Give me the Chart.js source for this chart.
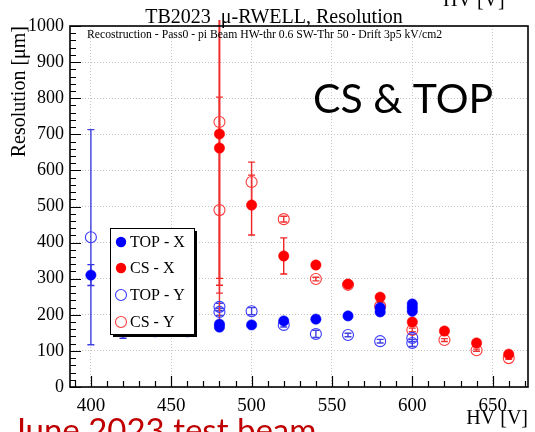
<!DOCTYPE html>
<html>
<head>
<meta charset="utf-8">
<script src="https://cdn.jsdelivr.net/npm/chart.js@4.4.1/dist/chart.umd.min.js"></script>
<style>
  html, body { margin: 0; padding: 0; background: #ffffff; }
  #wrap { position: relative; width: 535px; height: 432px; }
</style>
</head>
<body>
<div id="wrap"><canvas id="c" width="535" height="432"></canvas></div>
<script>
// ---------- data ----------
const chartTitle = 'TB2023  \u03bc-RWELL, Resolution';
const subTitle = 'Recostruction - Pass0 - pi Beam HW-thr 0.6 SW-Thr 50 - Drift 3p5 kV/cm2';
const xAxisTitle = 'HV [V]';
const yAxisTitle = 'Resolution [\u03bcm]';
const bigLabel = 'CS & TOP';
const footLabel = 'June 2023 test beam';
const seriesNames = ['TOP - X', 'CS - X', 'TOP - Y', 'CS - Y'];

const hvTopX  = [400, 420, 440, 460, 480, 480, 500, 520, 540, 560, 580, 580, 600, 600, 600];
const resTopX = [310, 160, 153, 153, 166, 174, 172, 183, 188, 197, 208, 220, 230, 220, 210];
const errTopX = [ 29,  25,   0,   0,   6,   6,   4,   4,   4,   4,   4,   4,   4,   4,   4];

const hvCsX   = [480, 480, 500, 520, 540, 560, 580, 600, 620, 640, 660];
const resCsX  = [701, 662, 504, 363, 338, 285, 249, 180, 155, 122,  91];
const errCsX  = [400, 380,  83,  50,   6,   5,   5,   4,   4,   3,   3];

const hvTopY  = [400, 480, 480, 500, 520, 540, 560, 580, 600, 600];
const resTopY = [415, 222, 208, 210, 172, 147, 144, 127, 136, 122];
const errTopY = [298,  10,  10,  10,   6,  10,   5,   5,  10,  10];

const hvCsY   = [480, 480, 500, 520, 540, 560, 580, 600, 620, 640, 660];
const resCsY  = [734, 490, 568, 465, 299, 283, 224, 158, 130, 102,  80];
const errCsY  = [474, 313,  55,   8,   5,   5,  10,   5,   4,   3,   3];

const xTickValues = [400, 450, 500, 550, 600, 650];
const yTickValues = [0, 100, 200, 300, 400, 500, 600, 700, 800, 900, 1000];
const xMin = 387, xMax = 672, xMinor = 10;
const yMin = 0, yMax = 1000, yMinor = 20;

// ---------- helpers ----------
function pts(xs, ys) { return xs.map((x, i) => ({ x: x, y: ys[i] })); }
const errs = [errTopX, errCsX, errTopY, errCsY];

const BLUE = '#0000ff', RED = '#ff0000', BLUE_O = '#3a3aff', RED_O = '#ff3a3a';
const SERIF = '"Liberation Serif", "DejaVu Serif", serif';
const SANS = 'Lato, "Open Sans", sans-serif';

const errorBarPlugin = {
  id: 'errorBars',
  beforeDatasetsDraw(chart) {
    const { ctx, chartArea: a, scales: { x, y } } = chart;
    ctx.save();
    ctx.beginPath();
    ctx.rect(a.left, a.top - 6, a.right - a.left, a.bottom - a.top + 6);
    ctx.clip();
    chart.data.datasets.forEach((ds, di) => {
      const e = errs[di];
      ctx.strokeStyle = ds.errColor;
      ctx.lineWidth = 1.4;
      ds.data.forEach((p, i) => {
        if (!e[i]) return;
        const px = x.getPixelForValue(p.x);
        const yLo = y.getPixelForValue(p.y - e[i]);
        const yHi = y.getPixelForValue(p.y + e[i]);
        ctx.beginPath();
        ctx.moveTo(px, yLo); ctx.lineTo(px, yHi);
        ctx.moveTo(px - 3.5, yLo); ctx.lineTo(px + 3.5, yLo);
        ctx.moveTo(px - 3.5, yHi); ctx.lineTo(px + 3.5, yHi);
        ctx.stroke();
      });
    });
    ctx.restore();
  }
};

const legendBoxPlugin = {
  id: 'legendBox',
  afterDatasetsDraw(chart) {
    const { ctx } = chart;
    const L = 110, T = 228, W = 84, H = 106;
    ctx.save();
    ctx.fillStyle = '#000';
    ctx.fillRect(L + 3, T + 3, W, H);
    ctx.fillStyle = '#fff';
    ctx.fillRect(L, T, W, H);
    ctx.strokeStyle = '#000';
    ctx.lineWidth = 1;
    ctx.strokeRect(L + 0.5, T + 0.5, W, H);
    ctx.font = '16px ' + SERIF;
    ctx.textBaseline = 'middle';
    ctx.textAlign = 'left';
    const rows = [242, 268, 295, 322];
    chart.data.datasets.forEach((ds, i) => {
      const cy = rows[i];
      ctx.beginPath();
      ctx.arc(121, cy, ds.pointRadius, 0, Math.PI * 2);
      if (ds.legendFilled) { ctx.fillStyle = ds.pointBackgroundColor; ctx.fill(); }
      else { ctx.strokeStyle = ds.pointBorderColor; ctx.lineWidth = ds.pointBorderWidth; ctx.stroke(); }
      ctx.fillStyle = '#000';
      ctx.fillText(ds.label, 130, cy + 1);
    });
    ctx.restore();
  }
};

const framePlugin = {
  id: 'frame',
  afterDraw(chart) {
    const { ctx, chartArea: a, scales: { x, y } } = chart;
    ctx.save();
    ctx.strokeStyle = '#000';
    ctx.lineWidth = 1.2;
    ctx.beginPath();
    for (let v = yMin; v <= yMax + 1e-9; v += yMinor) {
      const py = Math.round(y.getPixelForValue(v)) + 0.5;
      const len = yTickValues.includes(v) ? 11 : 6;
      ctx.moveTo(a.left, py); ctx.lineTo(a.left + len, py);
    }
    for (let v = Math.ceil(xMin / xMinor) * xMinor; v <= xMax; v += xMinor) {
      const px = Math.round(x.getPixelForValue(v)) + 0.5;
      const len = xTickValues.includes(v) ? 11 : 6;
      ctx.moveTo(px, a.bottom); ctx.lineTo(px, a.bottom - len);
    }
    ctx.stroke();
    ctx.lineWidth = 1.6;
    ctx.strokeRect(a.left, a.top, a.right - a.left, a.bottom - a.top);

    // texts
    ctx.fillStyle = '#000';
    ctx.textAlign = 'center';
    ctx.textBaseline = 'alphabetic';
    ctx.font = '20px ' + SERIF;
    ctx.fillText(chartTitle, 274, 23);
    ctx.textAlign = 'left';
    ctx.font = '11.7px ' + SERIF;
    ctx.fillText(subTitle, 87, 38);
    ctx.font = '20px ' + SERIF;
    ctx.fillText(xAxisTitle, 443, 6);
    ctx.font = '41px ' + SANS;
    ctx.fillText(bigLabel, 313, 113);
    ctx.fillStyle = '#c00000';
    ctx.font = '33px ' + SANS;
    ctx.fillText(footLabel, 12, 442);
    ctx.restore();
  }
};

const datasets = [
  { label: seriesNames[0], data: pts(hvTopX, resTopX), pointRadius: 5.2, pointBackgroundColor: BLUE, pointBorderColor: BLUE, pointBorderWidth: 0.5, errColor: '#3030e0', legendFilled: true },
  { label: seriesNames[1], data: pts(hvCsX, resCsX), pointRadius: 5.2, pointBackgroundColor: RED, pointBorderColor: RED, pointBorderWidth: 0.5, errColor: '#f02020', legendFilled: true },
  { label: seriesNames[2], data: pts(hvTopY, resTopY), pointRadius: 5.5, pointBackgroundColor: 'rgba(0,0,0,0)', pointBorderColor: BLUE_O, pointBorderWidth: 1.1, errColor: '#4040e0', legendFilled: false },
  { label: seriesNames[3], data: pts(hvCsY, resCsY), pointRadius: 5.5, pointBackgroundColor: 'rgba(0,0,0,0)', pointBorderColor: RED_O, pointBorderWidth: 1.1, errColor: '#f03030', legendFilled: false }
];

new Chart(document.getElementById('c'), {
  type: 'scatter',
  data: { datasets: datasets },
  options: {
    responsive: false,
    animation: false,
    devicePixelRatio: 1,
    layout: { padding: { top: 26, right: 7, left: 0, bottom: 0 } },
    plugins: { legend: { display: false }, tooltip: { enabled: false }, title: { display: false } },
    elements: { point: { hoverRadius: 5 } },
    scales: {
      x: {
        type: 'linear', min: xMin, max: xMax,
        afterBuildTicks: s => { s.ticks = xTickValues.map(v => ({ value: v })); },
        afterFit: s => { s.height = 45; },
        ticks: { autoSkip: false, maxRotation: 0, padding: 8, color: '#000', font: { family: SERIF, size: 19 }, callback: v => String(v) },
        grid: { color: '#c4c4c4', lineWidth: 1, drawTicks: false },
        border: { display: false, dash: [1, 2] },
        title: { display: true, text: xAxisTitle, align: 'end', color: '#000', font: { family: SERIF, size: 20 }, padding: { top: 0, bottom: 1 } }
      },
      y: {
        type: 'linear', min: yMin, max: yMax,
        afterBuildTicks: s => { s.ticks = yTickValues.map(v => ({ value: v })); },
        afterFit: s => { s.width = 70; },
        ticks: { autoSkip: false, padding: 6, color: '#000', font: { family: SERIF, size: 18 }, callback: v => String(v) },
        grid: { color: '#c4c4c4', lineWidth: 1, drawTicks: false },
        border: { display: false, dash: [1, 2] },
        title: { display: true, text: yAxisTitle, align: 'end', color: '#000', font: { family: SERIF, size: 20 }, padding: { top: 8, bottom: 0 } }
      }
    }
  },
  plugins: [errorBarPlugin, legendBoxPlugin, framePlugin]
});
</script>
</body>
</html>
